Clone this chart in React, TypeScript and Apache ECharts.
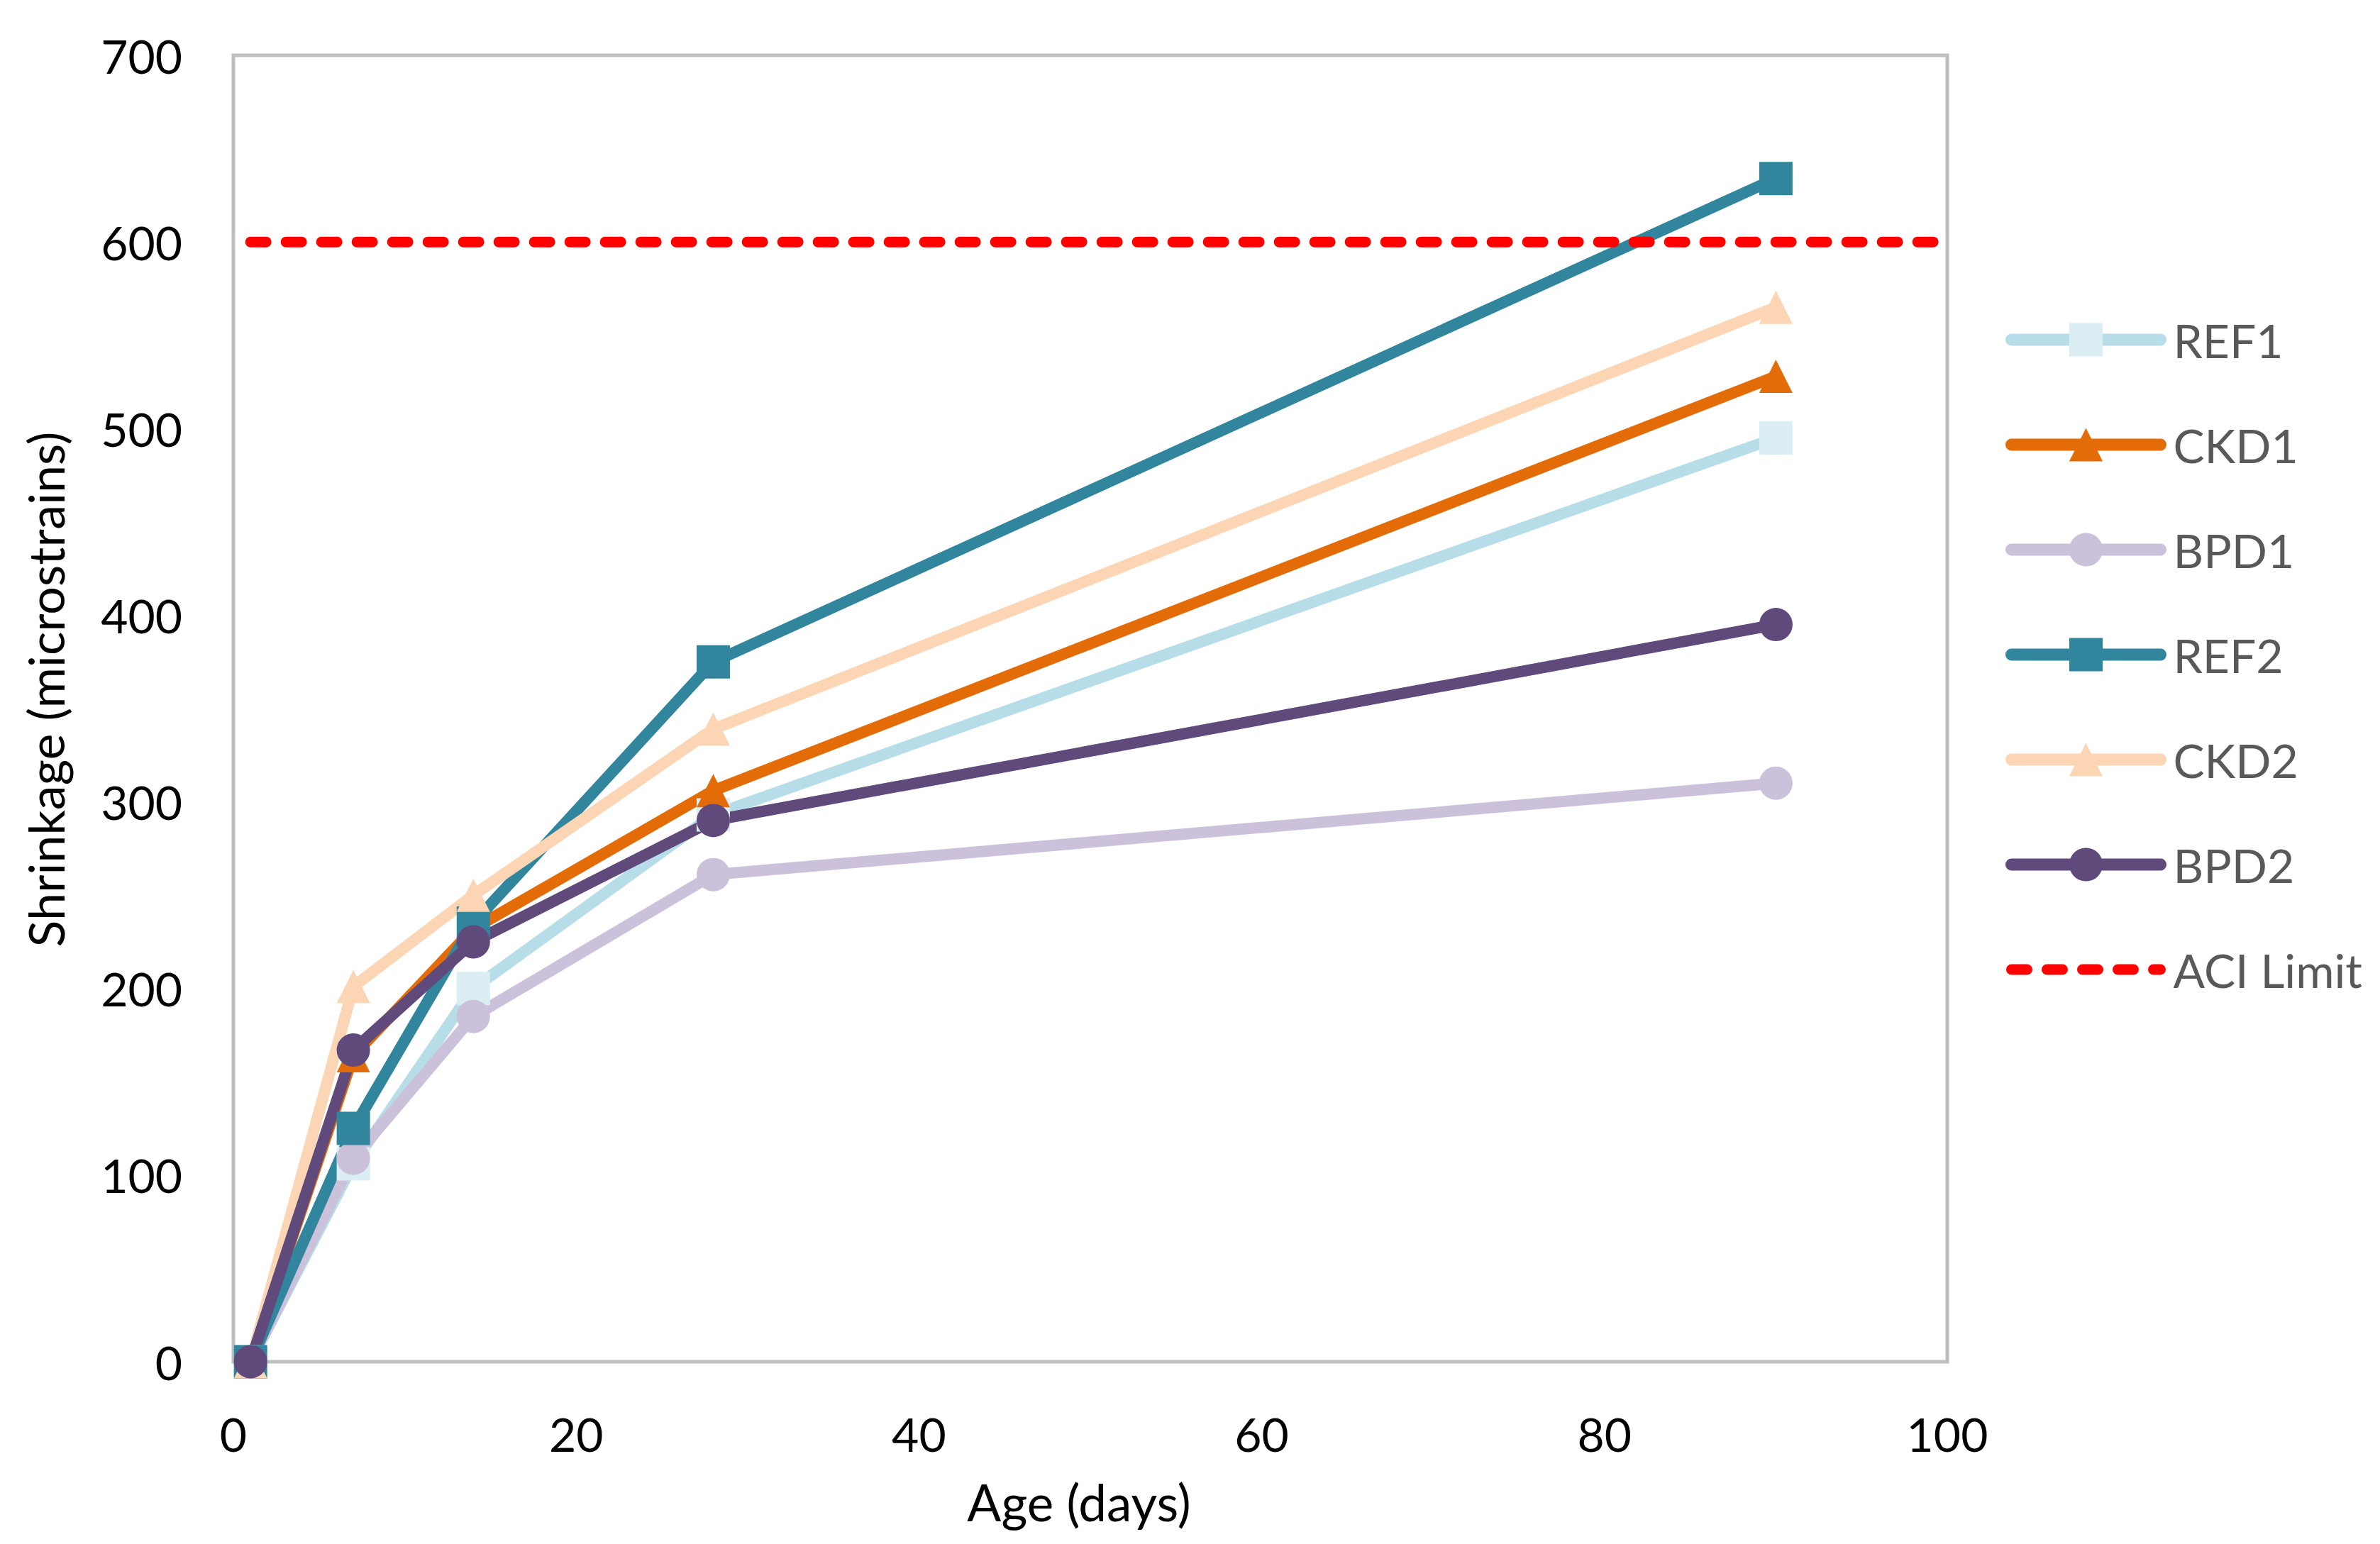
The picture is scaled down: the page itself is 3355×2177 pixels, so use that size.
import React, { useEffect, useRef } from "react";
import * as echarts from "echarts";

const ages = [1, 7, 14, 28, 90];
const ref1 = [0, 106, 200, 293, 495];
const ckd1 = [0, 164, 232, 306, 528];
const bpd1 = [0, 109, 185, 261, 310];
const ref2 = [0, 125, 235, 375, 634];
const ckd2 = [0, 201, 250, 339, 565];
const bpd2 = [0, 167, 225, 290, 395];
const aciAges = [1, 100];
const aciValues = [600, 600];

const seriesNames = ["REF1", "CKD1", "BPD1", "REF2", "CKD2", "BPD2"];
const seriesValues = [ref1, ckd1, bpd1, ref2, ckd2, bpd2];
const lineColors = ["#B7DDE8", "#E36C09", "#CCC1DA", "#31859C", "#FCD5B5", "#604A7B"];
const markerColors = ["#DAEEF3", "#E36C09", "#CCC1DA", "#31859C", "#FCD5B5", "#604A7B"];
const markerShapes = ["rect", "triangle", "circle", "rect", "triangle", "circle"];

const FONT = "Lato";

export default function App() {
  const ref = useRef<HTMLDivElement>(null);
  useEffect(() => {
    if (!ref.current) return;
    const chart = echarts.init(ref.current, undefined, { renderer: "svg" });
    const series: any[] = seriesNames.map((name, i) => ({
      name,
      type: "line",
      data: ages.map((a, j) => [a, seriesValues[i][j]]),
      symbol: markerShapes[i],
      symbolSize: 47,
      showSymbol: true,
      lineStyle: { color: lineColors[i], width: 16, cap: "round", join: "round" },
      itemStyle: { color: markerColors[i], borderWidth: 0 },
      emphasis: { disabled: true },
    }));
    series.push({
      name: "ACI Limit",
      type: "line",
      data: aciAges.map((a, j) => [a, aciValues[j]]),
      symbol: "none",
      lineStyle: { color: "#FF0000", width: 15, type: [22, 28], cap: "round" },
      itemStyle: { color: "#FF0000" },
      emphasis: { disabled: true },
    });
    chart.setOption({
      animation: false,
      backgroundColor: "#FFFFFF",
      grid: {
        left: 329,
        right: 610,
        top: 78,
        bottom: 257,
        show: true,
        borderColor: "#BFBFBF",
        borderWidth: 5,
        containLabel: false,
      },
      xAxis: {
        type: "value",
        min: 0,
        max: 100,
        interval: 20,
        name: "Age (days)",
        nameLocation: "middle",
        nameGap: 162,
        nameTextStyle: { fontFamily: FONT, fontSize: 71, color: "#000000", padding: [0, 32, 0, 0] },
        axisLine: { show: false },
        axisTick: { show: false },
        splitLine: { show: false },
        axisLabel: { fontFamily: FONT, fontSize: 66, color: "#000000", margin: 68 },
      },
      yAxis: {
        type: "value",
        min: 0,
        max: 700,
        interval: 100,
        name: "Shrinkage (microstrains)",
        nameLocation: "middle",
        nameGap: 230,
        nameTextStyle: { fontFamily: FONT, fontSize: 70, color: "#000000", padding: [0, 0, 0, 54] },
        axisLine: { show: false },
        axisTick: { show: false },
        splitLine: { show: false },
        axisLabel: { fontFamily: FONT, fontSize: 66, color: "#000000", margin: 72 },
      },
      legend: {
        orient: "vertical",
        left: 2827,
        top: 446,
        padding: 0,
        itemWidth: 210,
        itemHeight: 59,
        itemGap: 82,
        textStyle: { fontFamily: FONT, fontSize: 66, color: "#595959", padding: [0, 0, 0, 13] },
        lineStyle: { width: 17, cap: "round" },
        data: [
          ...seriesNames.map((n) => ({ name: n })),
          { name: "ACI Limit", itemStyle: { opacity: 0 }, lineStyle: { width: 15 } },
        ],
        selectedMode: false,
      },
      series,
    });
    return () => chart.dispose();
  }, []);
  return (
    <div
      ref={ref}
      style={{ position: "absolute", left: 0, top: 0, width: 3355, height: 2177 }}
    />
  );
}
